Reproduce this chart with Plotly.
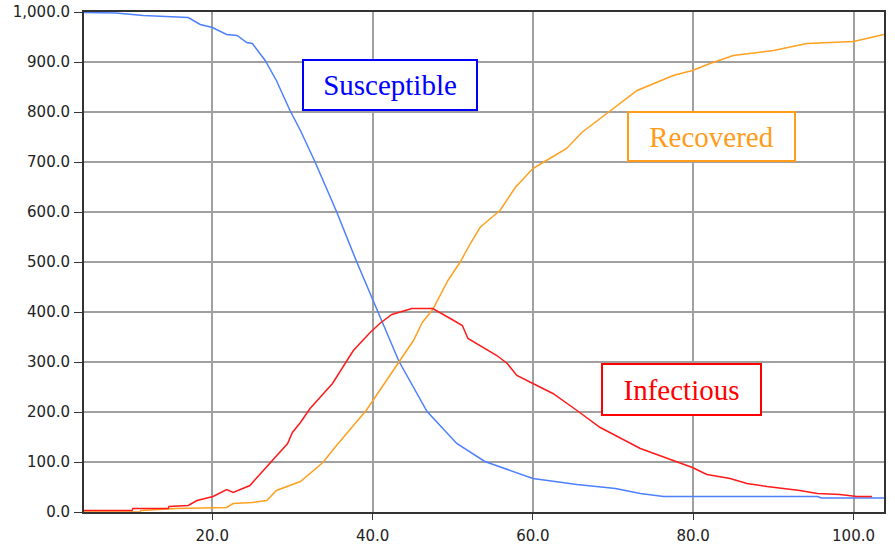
import plotly.graph_objects as go

# Susceptible
s_t = [0, 8, 11.4, 14.4, 17, 18.5, 20, 21.8, 23.1, 24.3, 25, 26.6, 28, 29.7, 31, 32.8, 35.5, 38, 40.1, 40.7,
       42.6, 43.3, 46.8, 50.5, 54, 60, 65.5, 68.4, 70.3, 73.4, 76.3, 95.5, 96, 103.8]
s_v = [1000, 998, 993, 991, 989, 975, 969, 955, 953, 939, 937, 903, 863, 803, 763, 701, 601, 501, 423, 401,
       327, 301, 201, 137, 101, 67, 55, 51, 47, 37, 31, 31, 28, 28]

# Infectious
i_t = [0, 10, 10.1, 14.5, 14.6, 17, 18.1, 20.1, 21.8, 22.6, 24.7, 27.1, 29.4, 30, 31, 32.2, 35, 37.6, 39.7, 40.9,
       42.4, 44.9, 47.5, 49.7, 51.2, 51.9, 55.5, 56.8, 58, 60, 62.5, 65.5, 68.4, 73.4, 76.7, 79.9, 81.7, 84.6, 86.7,
       89.2, 93.3, 95.5, 98.3, 100.4, 102.3]
i_v = [3, 3, 7, 7, 11, 13, 23, 31, 45, 39, 53, 97, 137, 159, 179, 207, 257, 323, 359, 377,
       395, 407, 407, 387, 373, 347, 313, 297, 273, 257, 237, 203, 169, 127, 107, 89, 75, 67, 57,
       51, 43, 37, 35, 31, 31]

# Recovered
r_t = [0, 11, 11.1, 15.5, 21.8, 22.6, 25, 26.8, 28, 31, 33.8, 35.5, 39.2, 40.9, 43.4, 45.1, 46.2, 47.5, 49.4, 50.9,
       52.2, 53.4, 54.7, 55.9, 57.8, 60, 62.1, 64.2, 66.1, 68.4, 70.9, 73, 77.5, 79.9, 82.1, 85, 90, 94.2, 100, 103.8]
r_v = [0, 0, 3, 7, 9, 17, 19, 23, 43, 61, 99, 133, 203, 243, 303, 343, 379, 405, 463, 499,
       537, 569, 587, 603, 649, 687, 707, 727, 759, 787, 817, 843, 873, 883, 897, 913, 923, 937, 941, 955]

x_ticks = [20, 40, 60, 80, 100]
y_ticks = list(range(0, 1001, 100))

fig = go.Figure()
fig.add_trace(go.Scatter(x=s_t, y=s_v, mode="lines", line=dict(color="#4d80ff", width=1.5), name="Susceptible"))
fig.add_trace(go.Scatter(x=r_t, y=r_v, mode="lines", line=dict(color="#ffa020", width=1.5), name="Recovered"))
fig.add_trace(go.Scatter(x=i_t, y=i_v, mode="lines", line=dict(color="#ff1a1a", width=1.5), name="Infectious"))

def box(text, x, y, color, w, h):
    fig.add_annotation(x=x, y=y, xref="x", yref="y", text=text, showarrow=False,
                       font=dict(family="Liberation Serif", size=29, color=color),
                       bordercolor=color, borderwidth=2, borderpad=0, bgcolor="white",
                       width=w, height=h)

box("Susceptible", 42.2, 855, "#0000ff", 172, 48)
box("Recovered", 82.3, 752, "#ff9c1a", 165, 47)
box("Infectious", 78.55, 246, "#ff0000", 157, 49)

fig.update_layout(
    width=895, height=549,
    margin=dict(l=84, r=11, t=12, b=37),
    plot_bgcolor="white", paper_bgcolor="white",
    showlegend=False,
    font=dict(family="DejaVu Sans", size=15, color="#222"),
)
fig.update_xaxes(range=[4, 103.8], tickvals=x_ticks, tickformat=".1f", automargin=False,
                 showgrid=True, gridcolor="#a0a0a0", gridwidth=1.5,
                 showline=True, linecolor="#333", linewidth=2, mirror=True,
                 ticks="outside", ticklen=6, tickcolor="#333", zeroline=False,
                 ticklabelstandoff=3, ticklabeloverflow="allow")
fig.update_yaxes(range=[0, 1000], tickvals=y_ticks, tickformat=",.1f", automargin=False,
                 showgrid=True, gridcolor="#a0a0a0", gridwidth=1.5,
                 showline=True, linecolor="#333", linewidth=2, mirror=True,
                 ticks="outside", ticklen=8, tickcolor="#333", zeroline=False,
                 ticklabelstandoff=1, ticklabeloverflow="allow")

# remove the browser's default 8px body margin so the figure sits at the page origin
fig.write_html("out.html", config={"displayModeBar": False},
               post_script="document.body.style.margin='0';")
